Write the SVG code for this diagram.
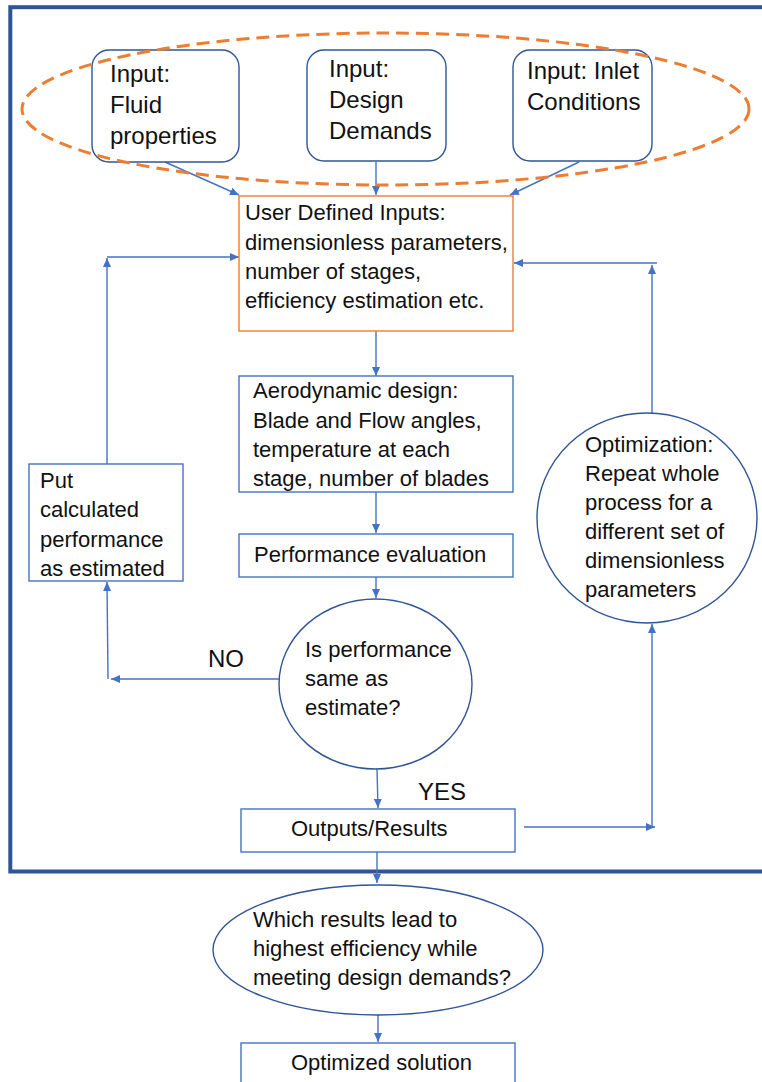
<svg xmlns="http://www.w3.org/2000/svg" width="762" height="1082" viewBox="0 0 762 1082">
  <style>
    text { font-family: "Liberation Sans", Arial, sans-serif; fill: #111; font-size: 22px; }
    .big { font-size: 24px; }
    .lbl { font-size: 24px; }
    .rbox { fill: #fff; stroke: #2F5597; stroke-width: 1.4; }
    .box { fill: #fff; stroke: #4472C4; stroke-width: 1.4; }
    .obox { fill: #fff; stroke: #ED7D31; stroke-width: 1.4; }
    .circ { fill: #fff; stroke: #2F5597; stroke-width: 1.4; }
    .conn path { fill: none; stroke: #4472C4; stroke-width: 1.4; }
    .arr { marker-end: url(#ah); }
  </style>
  <defs>
    <marker id="ah" markerUnits="userSpaceOnUse" markerWidth="10" markerHeight="9" refX="9" refY="4" orient="auto">
      <path d="M0,0 L9,4 L0,8 z" fill="#4472C4"/>
    </marker>
  </defs>
  <rect width="762" height="1082" fill="#fff"/>
  <rect id="frame" x="10.3" y="7.2" width="760" height="864.3" fill="none" stroke="#2F5597" stroke-width="4"/>

  <g class="conn" id="connectors">
    <path class="arr" d="M165,162 L239,195"/>
    <path class="arr" d="M376,162 L376,195"/>
    <path class="arr" d="M579,162 L510,195"/>
    <path class="arr" d="M376,331 L376,376"/>
    <path class="arr" d="M376,492 L376,533"/>
    <path class="arr" d="M376,577 L376,598"/>
    <path class="arr" d="M279,679 L111,679"/>
    <path class="arr" d="M108,679 L107,582"/>
    <path class="arr" d="M107,464 L107,258"/>
    <path class="arr" d="M107,257 L239,257"/>
    <path class="arr" d="M652,413 L652,265"/>
    <path class="arr" d="M657,263 L514,263"/>
    <path class="arr" d="M377,769 L378,808"/>
    <path class="arr" d="M524,827 L655,827"/>
    <path class="arr" d="M652,827 L652,624"/>
    <path class="arr" d="M377,852 L377,883"/>
    <path class="arr" d="M378,1015 L378,1042"/>
  </g>

  <g id="input-fluid">
    <rect class="rbox" x="92" y="50" width="147" height="112" rx="17"/>
    <text class="big" x="110" y="82">Input:</text>
    <text class="big" x="110" y="113">Fluid</text>
    <text class="big" x="110" y="144">properties</text>
  </g>
  <g id="input-design">
    <rect class="rbox" x="307" y="50" width="139" height="111" rx="17"/>
    <text class="big" x="329" y="77">Input:</text>
    <text class="big" x="329" y="108">Design</text>
    <text class="big" x="329" y="139">Demands</text>
  </g>
  <g id="input-inlet">
    <rect class="rbox" x="513" y="50" width="139" height="111" rx="17"/>
    <text class="big" x="527" y="79">Input: Inlet</text>
    <text class="big" x="527" y="110">Conditions</text>
  </g>
  <g id="input-group">
    <ellipse cx="385.5" cy="109" rx="363.5" ry="76" fill="none" stroke="#ED7D31" stroke-width="3" stroke-dasharray="13 7"/>
  </g>

  <g id="user-inputs">
    <rect class="obox" x="239" y="196" width="274" height="135"/>
    <text x="245" y="220">User Defined Inputs:</text>
    <text x="245" y="250">dimensionless parameters,</text>
    <text x="245" y="279">number of stages,</text>
    <text x="245" y="308">efficiency estimation etc.</text>
  </g>

  <g id="aero-design">
    <rect class="box" x="239" y="376" width="274" height="116"/>
    <text x="253" y="398">Aerodynamic design:</text>
    <text x="253" y="428">Blade and Flow angles,</text>
    <text x="253" y="457">temperature at each</text>
    <text x="253" y="486">stage, number of blades</text>
  </g>

  <g id="perf-eval">
    <rect class="box" x="239" y="534" width="274" height="43"/>
    <text x="254" y="562">Performance evaluation</text>
  </g>

  <g id="put-calc">
    <rect class="box" x="29" y="464" width="154" height="117"/>
    <text x="40" y="488">Put</text>
    <text x="40" y="517">calculated</text>
    <text x="40" y="547">performance</text>
    <text x="40" y="576">as estimated</text>
  </g>

  <g id="is-same">
    <ellipse class="circ" cx="375.5" cy="684" rx="96.5" ry="85"/>
    <text x="305" y="657">Is performance</text>
    <text x="305" y="686">same as</text>
    <text x="305" y="715">estimate?</text>
  </g>

  <g id="optimization">
    <ellipse class="circ" cx="647" cy="518" rx="110" ry="105"/>
    <text x="585" y="452">Optimization:</text>
    <text x="585" y="481">Repeat whole</text>
    <text x="585" y="510">process for a</text>
    <text x="585" y="539">different set of</text>
    <text x="585" y="568">dimensionless</text>
    <text x="585" y="597">parameters</text>
  </g>

  <g id="outputs">
    <rect class="box" x="241" y="809" width="274" height="43"/>
    <text x="291" y="836">Outputs/Results</text>
  </g>

  <g id="labels">
    <text class="lbl" x="208" y="667">NO</text>
    <text class="lbl" x="418" y="800">YES</text>
  </g>

  <g id="which-results">
    <ellipse class="circ" cx="378" cy="950" rx="165" ry="65"/>
    <text x="253" y="927">Which results lead to</text>
    <text x="253" y="956">highest efficiency while</text>
    <text x="253" y="985">meeting design demands?</text>
  </g>

  <g id="optimized">
    <rect class="box" x="241" y="1043" width="274" height="60"/>
    <text x="291" y="1070">Optimized solution</text>
  </g>
</svg>
